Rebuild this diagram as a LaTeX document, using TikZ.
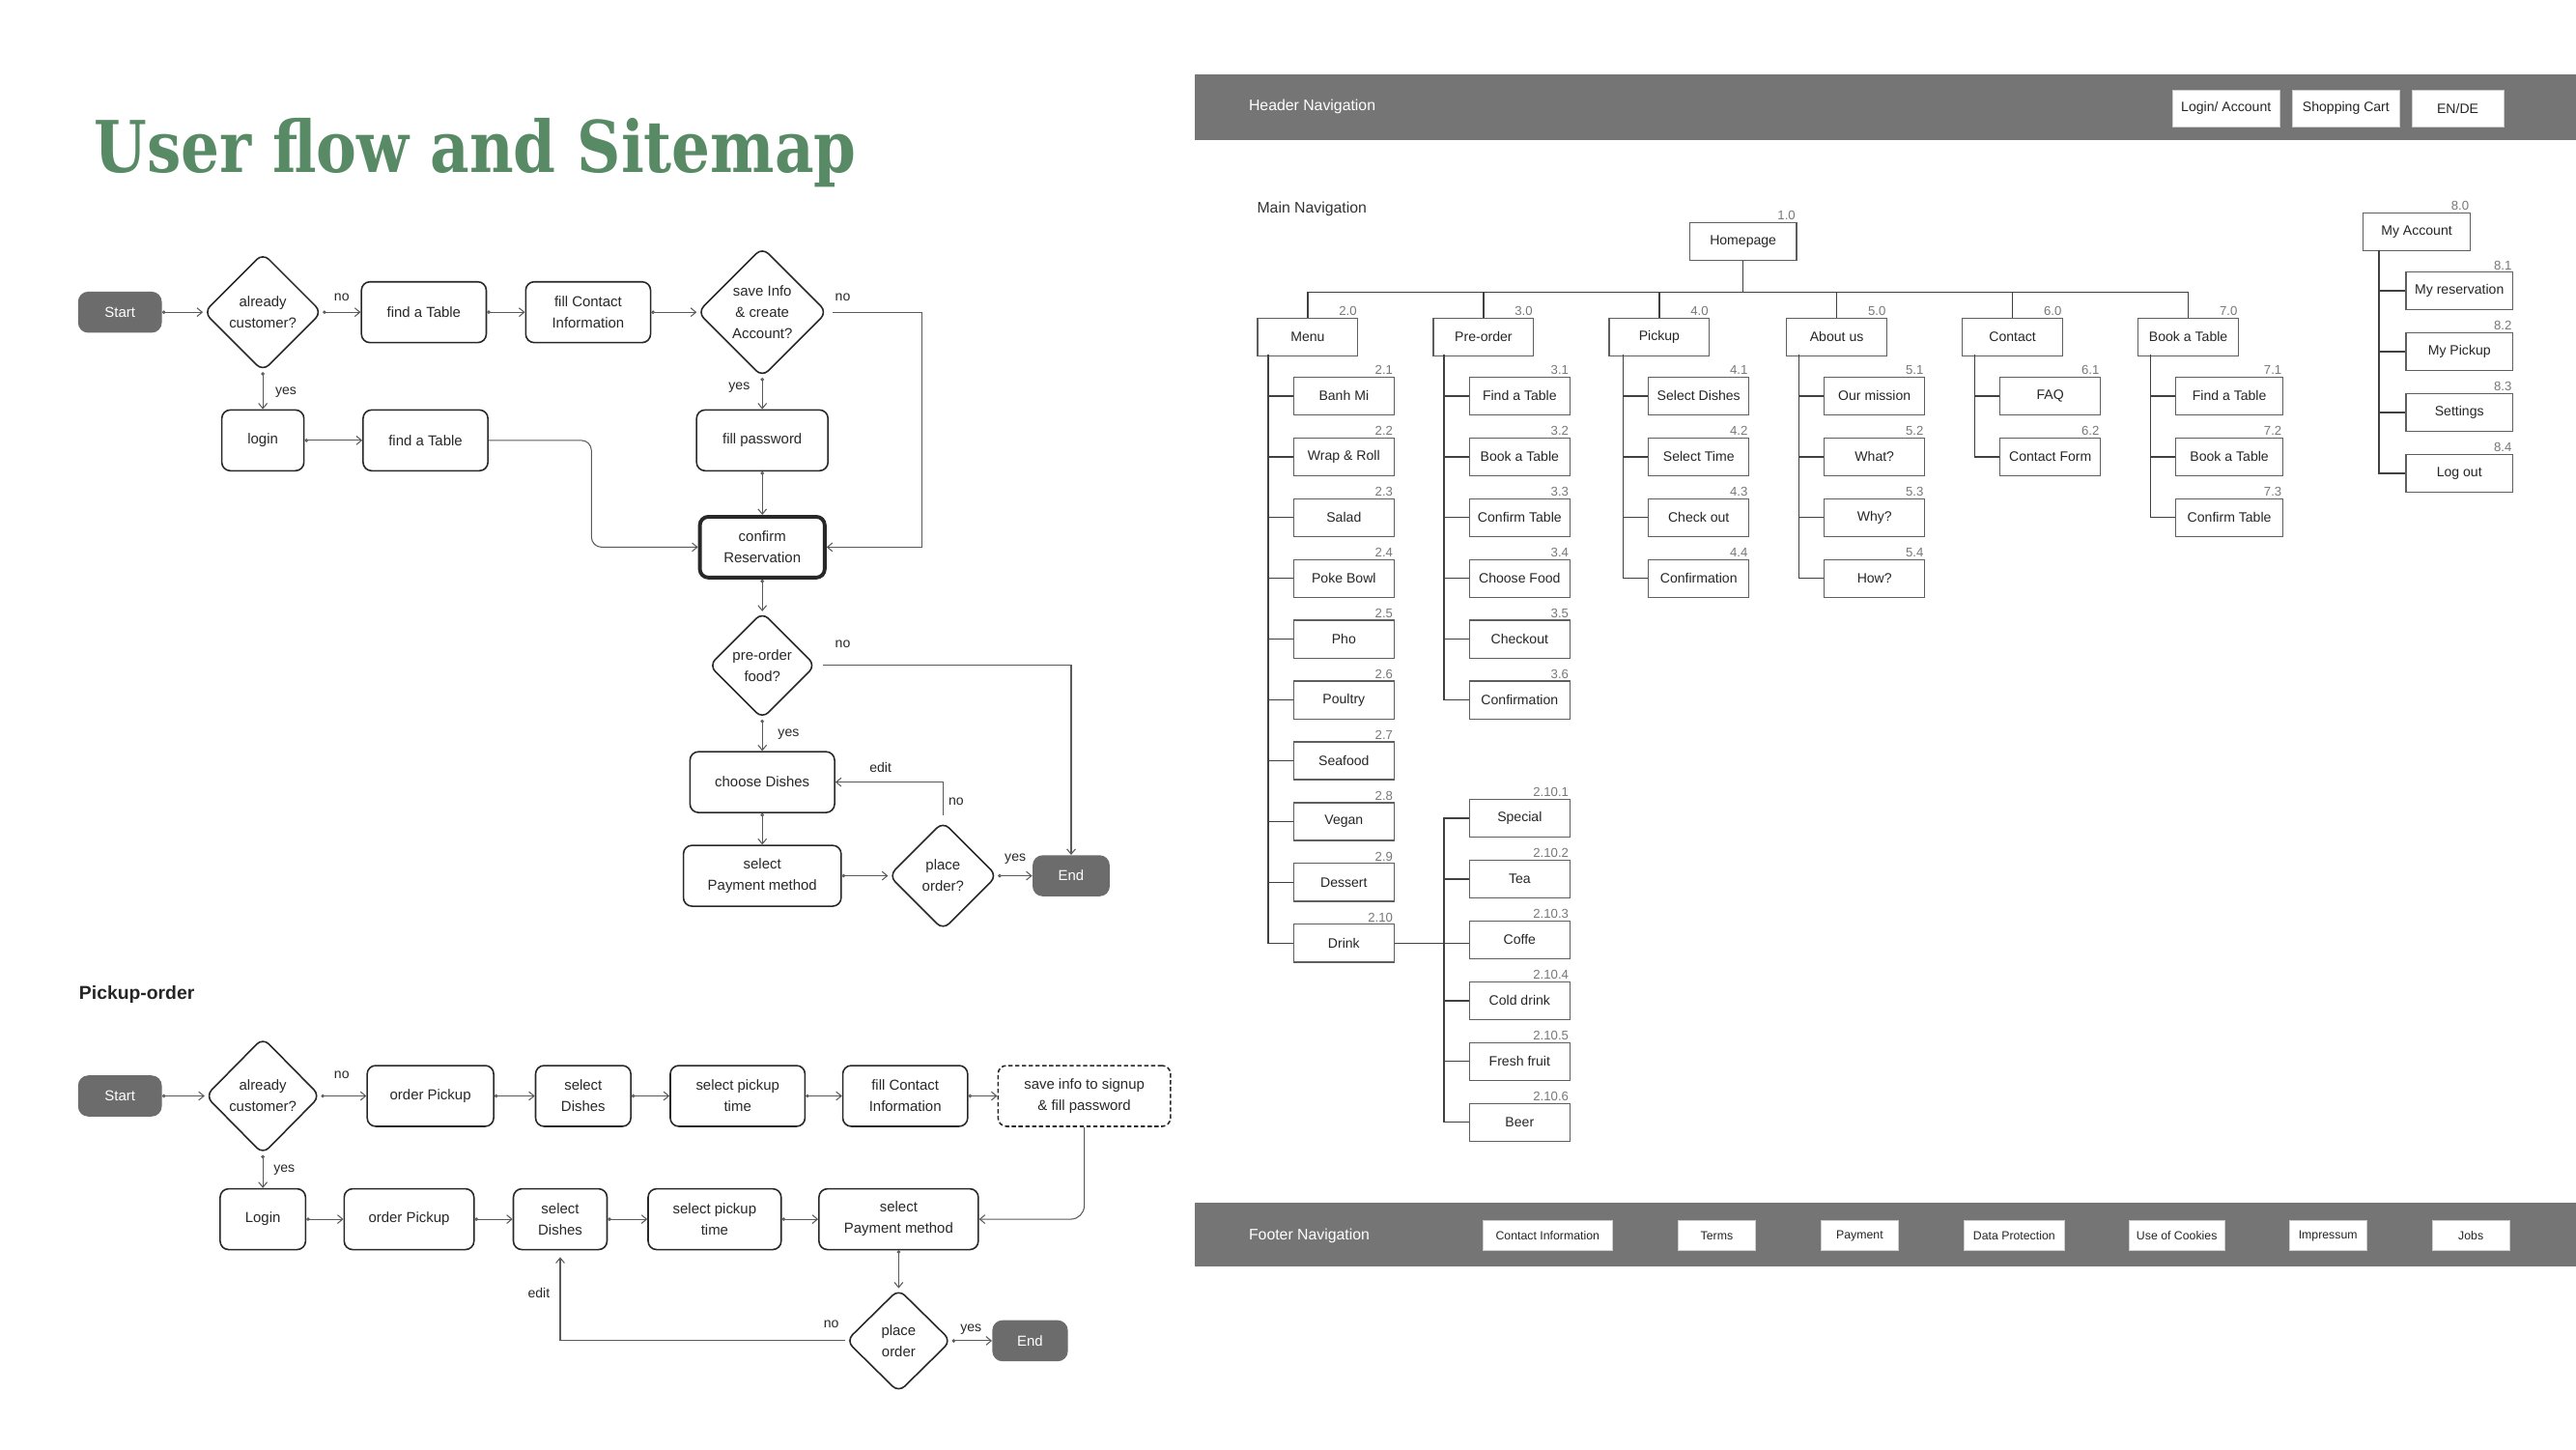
\documentclass[tikz,border=0pt]{standalone}
\usepackage{graphicx}
\usepackage{fontspec}
\setmainfont{Liberation Sans}
\newfontfamily\titlefont{DejaVu Serif}
\usepackage{tikz}
\usetikzlibrary{positioning, shapes.geometric, arrows.meta}
\definecolor{titlegreen}{RGB}{87,138,101}
\definecolor{flowdark}{RGB}{40,40,40}
\definecolor{linkgray}{RGB}{90,90,90}
\definecolor{termgray}{RGB}{108,108,108}
\definecolor{navgray}{RGB}{116,117,116}
\definecolor{pagegray}{RGB}{95,95,95}
\definecolor{numgray}{RGB}{120,120,120}
\newlength{\pxu}
\setlength{\pxu}{0.034cm}

\begin{document}
\begin{tikzpicture}[
  x=0.034cm, y=-0.034cm,
  font=\fontsize{8.5}{12.5}\selectfont,
  >={Straight Barb[length=3pt,width=5pt]},
  stepbox/.style={rectangle, rounded corners=5pt, draw=flowdark, fill=white,
              line width=0.9pt, align=center, text=flowdark,
              minimum height=37*\pxu, inner sep=1pt},
  decide/.style={diamond, rounded corners=5pt, draw=flowdark, fill=white,
              line width=0.9pt, align=center, text=flowdark, inner sep=0pt},
  term/.style={rectangle, rounded corners=6pt, fill=termgray, text=white,
              minimum width=51*\pxu, minimum height=25*\pxu, inner sep=1pt},
  lbl/.style={text=flowdark, font=\fontsize{8}{9}\selectfont, inner sep=1pt},
  arr/.style={{Circle[open,length=2pt,width=2pt]}->, line width=0.6pt, draw=linkgray},
  elb/.style={->, line width=0.6pt, draw=linkgray},
  page/.style={rectangle, draw=pagegray, line width=0.7pt, fill=white,
              minimum width=61*\pxu, minimum height=23*\pxu, inner sep=1pt,
              font=\fontsize{8}{9}\selectfont, text=black!85},
  num/.style={font=\fontsize{7.5}{8}\selectfont, text=numgray, anchor=south east, inner sep=0.8pt},
  tree/.style={draw=black!75, line width=0.8pt},
  navbtn/.style={rectangle, fill=white, draw=black!20, line width=0.4pt,
              minimum height=22*\pxu, inner sep=1pt,
              font=\fontsize{8}{9}\selectfont, text=black!85},
  footbtn/.style={navbtn, minimum height=18*\pxu, minimum width=47*\pxu,
              font=\fontsize{7}{8}\selectfont}
]
\useasboundingbox (0,0) rectangle (1568,882);
\fill[white] (0,0) rectangle (1568,882);

% title
\node[anchor=base west, inner sep=0pt, text=titlegreen,
      font=\titlefont\bfseries\fontsize{42}{42}\selectfont] (title) at (57,105)
      {\scalebox{0.85}[1]{User flow and Sitemap}};

% reservation flow
\node[term] (start1) at (73,190) {Start};
\node[decide, minimum width=72*\pxu, minimum height=72*\pxu] (cust1) at (160,190) {already\\customer?};
\node[stepbox, minimum width=76*\pxu] (table1) at (258,190) {find a Table};
\node[stepbox, minimum width=76*\pxu] (contact1) at (358,190) {fill Contact\\Information};
\node[decide, minimum width=79*\pxu, minimum height=79*\pxu] (save1) at (464,190) {save Info\\\& create\\Account?};
\node[stepbox, minimum width=50*\pxu] (login1) at (160,268) {login};
\node[stepbox, minimum width=76*\pxu] (table2) at (259,268) {find a Table};
\node[stepbox, minimum width=80*\pxu] (pass1) at (464,268) {fill password};
\node[stepbox, line width=2.2pt, minimum width=76*\pxu] (confirm1) at (464,333) {confirm\\Reservation};
\node[decide, minimum width=65*\pxu, minimum height=65*\pxu] (pre1) at (464,405) {pre-order\\food?};
\node[stepbox, minimum width=88*\pxu] (dishes1) at (464,476) {choose Dishes};
\node[stepbox, minimum width=96*\pxu] (pay1) at (464,533) {select\\Payment method};
\node[decide, minimum width=66*\pxu, minimum height=66*\pxu] (place1) at (574,533) {place\\order?};
\node[term, minimum width=47*\pxu] (end1) at (652,533) {End};
\coordinate (bendA) at (561,333);
\coordinate (bendB) at (360,333);

\node[lbl] (no1) at (208,181) {no};
\node[lbl] (yes1) at (174,239) {yes};
\node[lbl] (no2) at (513,181) {no};
\node[lbl] (yes2) at (450,236) {yes};
\node[lbl] (no3) at (513,392) {no};
\node[lbl] (yes3) at (480,447) {yes};
\node[lbl] (edit1) at (536,467) {edit};
\node[lbl] (no4) at (582,488) {no};
\node[lbl] (yes4) at (618,523) {yes};

\draw[arr] (start1)--(cust1); \draw[arr] (cust1)--(table1);
\draw[arr] (table1)--(contact1); \draw[arr] (contact1)--(save1);
\draw[arr] (cust1)--(login1); \draw[arr] (login1)--(table2);
\draw[arr] (save1)--(pass1); \draw[arr] (pass1)--(confirm1);
\draw[arr] (confirm1)--(pre1); \draw[arr] (pre1)--(dishes1);
\draw[arr] (dishes1)--(pay1); \draw[arr] (pay1)--(place1);
\draw[arr] (place1)--(end1);
\draw[elb, shorten <=3pt] (save1.east) -| (bendA) -- (confirm1.east);
\draw[elb, rounded corners=6pt] (table2.east) -| (bendB) -- (confirm1.west);
\draw[elb, shorten <=4pt] (pre1.east) -| (end1.north);
\draw[elb, shorten <=3pt] (place1.north) |- (dishes1.east);

% pickup flow
\node[anchor=west, inner sep=0pt, text=black!85, font=\fontsize{11}{12}\selectfont\bfseries] (pickhead) at (48,605) {Pickup-order};
\node[term] (start2) at (73,667) {Start};
\node[decide, minimum width=70*\pxu, minimum height=71*\pxu] (cust2) at (160,667) {already\\customer?};
\node[stepbox, minimum width=77*\pxu] (order2) at (262,667) {order Pickup};
\node[stepbox, minimum width=58*\pxu] (dish2) at (355,667) {select\\Dishes};
\node[stepbox, minimum width=82*\pxu] (time2) at (449,667) {select pickup\\time};
\node[stepbox, minimum width=76*\pxu] (contact2) at (551,667) {fill Contact\\Information};
\node[stepbox, dash pattern=on 2.5pt off 1.5pt, minimum width=105*\pxu] (save2) at (660,667) {save info to signup\\\& fill password};
\node[stepbox, minimum width=52*\pxu] (login2) at (160,742) {Login};
\node[stepbox, minimum width=79*\pxu] (order3) at (249,742) {order Pickup};
\node[stepbox, minimum width=57*\pxu] (dish3) at (341,742) {select\\Dishes};
\node[stepbox, minimum width=81*\pxu] (time3) at (435,742) {select pickup\\time};
\node[stepbox, minimum width=97*\pxu] (pay2) at (547,742) {select\\Payment method};
\node[decide, minimum width=64*\pxu, minimum height=63*\pxu] (place2) at (547,816) {place\\order};
\node[term, minimum width=46*\pxu] (end2) at (627,816) {End};

\node[lbl] (no5) at (208,654) {no};
\node[lbl] (yes5) at (173,712) {yes};
\node[lbl] (edit2) at (328,787) {edit};
\node[lbl] (no6) at (506,806) {no};
\node[lbl] (yes6) at (591,809) {yes};

\draw[arr] (start2)--(cust2); \draw[arr] (cust2)--(order2);
\draw[arr] (order2)--(dish2); \draw[arr] (dish2)--(time2);
\draw[arr] (time2)--(contact2); \draw[arr] (contact2)--(save2);
\draw[arr] (cust2)--(login2); \draw[arr] (login2)--(order3);
\draw[arr] (order3)--(dish3); \draw[arr] (dish3)--(time3);
\draw[arr] (time3)--(pay2); \draw[arr] (pay2)--(place2);
\draw[arr] (place2)--(end2);
\draw[elb, rounded corners=8pt] (save2.south) |- (pay2.east);
\draw[elb, shorten >=4pt] (place2.west) -| (dish3.south);

% sitemap: header
\fill[navgray] (727,45) rectangle (1568,85);
\node[anchor=west, inner sep=0pt, text=white, font=\fontsize{9}{10}\selectfont] (headnav) at (760,65) {Header Navigation};
\node[navbtn, minimum width=65*\pxu] (hlogin) at (1355,66) {Login/ Account};
\node[navbtn, minimum width=65*\pxu] (hcart) at (1428,66) {Shopping Cart};
\node[navbtn, minimum width=56*\pxu] (hlang) at (1496,66) {EN/DE};

% sitemap: main navigation
\node[anchor=west, inner sep=0pt, text=black!80, font=\fontsize{9}{10}\selectfont] (mainnav) at (765,127) {Main Navigation};
\node[page, minimum width=65*\pxu, label={[num]north east:1.0}] (home) at (1061,147) {Homepage};
\node[page, label={[num]north east:2.0}] (menu) at (796,205) {Menu};
\node[page, label={[num]north east:3.0}] (preorder) at (903,205) {Pre-order};
\node[page, label={[num]north east:4.0}] (pickup) at (1010,205) {Pickup};
\node[page, label={[num]north east:5.0}] (about) at (1118,205) {About us};
\node[page, label={[num]north east:6.0}] (contact) at (1225,205) {Contact};
\node[page, label={[num]north east:7.0}] (book) at (1332,205) {Book a Table};
\coordinate (bus) at (1061,178);
\draw[tree] (home.south) -- (bus);
\draw[tree] (bus) -| (menu.north); \draw[tree] (bus) -| (preorder.north);
\draw[tree] (bus) -| (pickup.north); \draw[tree] (bus) -| (about.north);
\draw[tree] (bus) -| (contact.north); \draw[tree] (bus) -| (book.north);

% menu
\node[page, label={[num]north east:2.1}] (m1) at (818,241) {Banh Mi};
\node[page, label={[num]north east:2.2}] (m2) at (818,278) {Wrap \& Roll};
\node[page, label={[num]north east:2.3}] (m3) at (818,315) {Salad};
\node[page, label={[num]north east:2.4}] (m4) at (818,352) {Poke Bowl};
\node[page, label={[num]north east:2.5}] (m5) at (818,389) {Pho};
\node[page, label={[num]north east:2.6}] (m6) at (818,426) {Poultry};
\node[page, label={[num]north east:2.7}] (m7) at (818,463) {Seafood};
\node[page, label={[num]north east:2.8}] (m8) at (818,500) {Vegan};
\node[page, label={[num]north east:2.9}] (m9) at (818,537) {Dessert};
\node[page, label={[num]north east:2.10}] (m10) at (818,574) {Drink};
\coordinate (menusp) at (772,216);
\draw[tree] (menusp) |- (m1.west); \draw[tree] (menusp) |- (m2.west);
\draw[tree] (menusp) |- (m3.west); \draw[tree] (menusp) |- (m4.west);
\draw[tree] (menusp) |- (m5.west); \draw[tree] (menusp) |- (m6.west);
\draw[tree] (menusp) |- (m7.west); \draw[tree] (menusp) |- (m8.west);
\draw[tree] (menusp) |- (m9.west); \draw[tree] (menusp) |- (m10.west);

% drinks
\node[page, label={[num]north east:2.10.1}] (r1) at (925,498) {Special};
\node[page, label={[num]north east:2.10.2}] (r2) at (925,535) {Tea};
\node[page, label={[num]north east:2.10.3}] (r3) at (925,572) {Coffe};
\node[page, label={[num]north east:2.10.4}] (r4) at (925,609) {Cold drink};
\node[page, label={[num]north east:2.10.5}] (r5) at (925,646) {Fresh fruit};
\node[page, label={[num]north east:2.10.6}] (r6) at (925,683) {Beer};
\coordinate (drinksp) at (879,574);
\draw[tree] (m10.east) -- (m10.east -| r3.west);
\draw[tree] (drinksp) |- (r1.west); \draw[tree] (drinksp) |- (r2.west);
\draw[tree] (drinksp) |- (r4.west); \draw[tree] (drinksp) |- (r5.west);
\draw[tree] (drinksp) |- (r6.west);

% pre-order
\node[page, label={[num]north east:3.1}] (p1) at (925,241) {Find a Table};
\node[page, label={[num]north east:3.2}] (p2) at (925,278) {Book a Table};
\node[page, label={[num]north east:3.3}] (p3) at (925,315) {Confirm Table};
\node[page, label={[num]north east:3.4}] (p4) at (925,352) {Choose Food};
\node[page, label={[num]north east:3.5}] (p5) at (925,389) {Checkout};
\node[page, label={[num]north east:3.6}] (p6) at (925,426) {Confirmation};
\coordinate (presp) at (879,216);
\draw[tree] (presp) |- (p1.west); \draw[tree] (presp) |- (p2.west);
\draw[tree] (presp) |- (p3.west); \draw[tree] (presp) |- (p4.west);
\draw[tree] (presp) |- (p5.west); \draw[tree] (presp) |- (p6.west);

% pickup
\node[page, label={[num]north east:4.1}] (k1) at (1034,241) {Select Dishes};
\node[page, label={[num]north east:4.2}] (k2) at (1034,278) {Select Time};
\node[page, label={[num]north east:4.3}] (k3) at (1034,315) {Check out};
\node[page, label={[num]north east:4.4}] (k4) at (1034,352) {Confirmation};
\coordinate (picksp) at (988,216);
\draw[tree] (picksp) |- (k1.west); \draw[tree] (picksp) |- (k2.west);
\draw[tree] (picksp) |- (k3.west); \draw[tree] (picksp) |- (k4.west);

% about us
\node[page, label={[num]north east:5.1}] (a1) at (1141,241) {Our mission};
\node[page, label={[num]north east:5.2}] (a2) at (1141,278) {What?};
\node[page, label={[num]north east:5.3}] (a3) at (1141,315) {Why?};
\node[page, label={[num]north east:5.4}] (a4) at (1141,352) {How?};
\coordinate (aboutsp) at (1095,216);
\draw[tree] (aboutsp) |- (a1.west); \draw[tree] (aboutsp) |- (a2.west);
\draw[tree] (aboutsp) |- (a3.west); \draw[tree] (aboutsp) |- (a4.west);

% contact
\node[page, label={[num]north east:6.1}] (c1) at (1248,241) {FAQ};
\node[page, label={[num]north east:6.2}] (c2) at (1248,278) {Contact Form};
\coordinate (contsp) at (1202,216);
\draw[tree] (contsp) |- (c1.west); \draw[tree] (contsp) |- (c2.west);

% book a table
\node[page, minimum width=65*\pxu, label={[num]north east:7.1}] (t1) at (1357,241) {Find a Table};
\node[page, minimum width=65*\pxu, label={[num]north east:7.2}] (t2) at (1357,278) {Book a Table};
\node[page, minimum width=65*\pxu, label={[num]north east:7.3}] (t3) at (1357,315) {Confirm Table};
\coordinate (booksp) at (1309,216);
\draw[tree] (booksp) |- (t1.west); \draw[tree] (booksp) |- (t2.west);
\draw[tree] (booksp) |- (t3.west);

% my account
\node[page, minimum width=65*\pxu, label={[num]north east:8.0}] (account) at (1471,141) {My Account};
\node[page, minimum width=65*\pxu, label={[num]north east:8.1}] (u1) at (1497,177) {My reservation};
\node[page, minimum width=65*\pxu, label={[num]north east:8.2}] (u2) at (1497,214) {My Pickup};
\node[page, minimum width=65*\pxu, label={[num]north east:8.3}] (u3) at (1497,251) {Settings};
\node[page, minimum width=65*\pxu, label={[num]north east:8.4}] (u4) at (1497,288) {Log out};
\coordinate (accsp) at (1448,152);
\draw[tree] (accsp) |- (u1.west); \draw[tree] (accsp) |- (u2.west);
\draw[tree] (accsp) |- (u3.west); \draw[tree] (accsp) |- (u4.west);

% sitemap: footer
\fill[navgray] (727,732) rectangle (1568,771);
\node[anchor=west, inner sep=0pt, text=white, font=\fontsize{9}{10}\selectfont] (footnav) at (760,752) {Footer Navigation};
\node[footbtn, minimum width=79*\pxu] (fcontact) at (942,752) {Contact Information};
\node[footbtn] (fterms) at (1045,752) {Terms};
\node[footbtn] (fpay) at (1132,752) {Payment};
\node[footbtn, minimum width=61*\pxu] (fdata) at (1226,752) {Data Protection};
\node[footbtn, minimum width=58*\pxu] (fcookies) at (1325,752) {Use of Cookies};
\node[footbtn] (fimpressum) at (1417,752) {Impressum};
\node[footbtn] (fjobs) at (1504,752) {Jobs};
\end{tikzpicture}
\end{document}
